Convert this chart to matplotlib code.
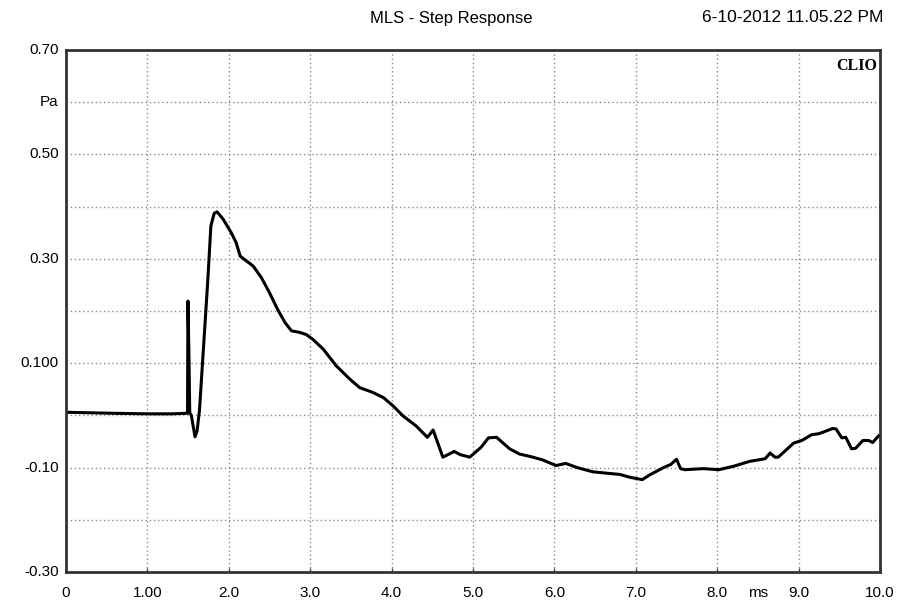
import matplotlib
matplotlib.use("Agg")
import matplotlib.pyplot as plt

# Data (time in ms, pressure in Pa)
time_ms = [0.00, 0.30, 0.60, 1.00, 1.30, 1.47, 1.493, 1.498, 1.51, 1.52, 1.54,
           1.585, 1.61, 1.64, 1.68, 1.74, 1.78, 1.82, 1.856, 1.93, 2.03, 2.09,
           2.14, 2.19, 2.30, 2.40, 2.50, 2.60, 2.69, 2.77, 2.87, 2.95, 3.03,
           3.16, 3.32, 3.49, 3.61, 3.77, 3.90, 4.02, 4.14, 4.30, 4.44, 4.51,
           4.63, 4.77, 4.84, 4.96, 5.10, 5.19, 5.29, 5.45, 5.57, 5.71, 5.85,
           6.02, 6.14, 6.28, 6.47, 6.66, 6.80, 6.94, 7.08, 7.17, 7.34, 7.43,
           7.50, 7.55, 7.60, 7.83, 8.02, 8.21, 8.40, 8.59, 8.65, 8.71, 8.75,
           8.94, 9.04, 9.16, 9.25, 9.32, 9.42, 9.46, 9.53, 9.58, 9.65, 9.70,
           9.79, 9.86, 9.91, 9.96, 10.0]
pressure_pa = [0.006, 0.005, 0.004, 0.003, 0.003, 0.004, 0.004, 0.219, 0.12,
               0.005, 0.000, -0.041, -0.030, 0.010, 0.108, 0.254, 0.363,
               0.387, 0.390, 0.376, 0.350, 0.331, 0.305, 0.299, 0.286, 0.264,
               0.235, 0.203, 0.178, 0.162, 0.159, 0.155, 0.146, 0.127, 0.095,
               0.069, 0.053, 0.044, 0.034, 0.018, -0.001, -0.020, -0.042,
               -0.028, -0.080, -0.069, -0.075, -0.080, -0.061, -0.043, -0.042,
               -0.064, -0.074, -0.079, -0.085, -0.096, -0.092, -0.100, -0.108,
               -0.111, -0.113, -0.119, -0.123, -0.114, -0.100, -0.094, -0.084,
               -0.102, -0.104, -0.102, -0.104, -0.097, -0.088, -0.083, -0.072,
               -0.080, -0.080, -0.053, -0.048, -0.037, -0.035, -0.031, -0.025,
               -0.026, -0.043, -0.042, -0.064, -0.063, -0.048, -0.048, -0.052,
               -0.043, -0.037]

x_ticks = [0, 1, 2, 3, 4, 5, 6, 7, 8, 9, 10]
x_tick_labels = ["0", "1.00", "2.0", "3.0", "4.0", "5.0", "6.0", "7.0", "8.0", "9.0", "10.0"]
y_ticks = [0.7, 0.5, 0.3, 0.1, -0.1, -0.3]
y_tick_labels = ["0.70", "0.50", "0.30", "0.100", "-0.10", "-0.30"]

plt.rcParams['font.family'] = ['Liberation Sans', 'DejaVu Sans']

fig = plt.figure(figsize=(9.01, 6.03), dpi=100)
ax = fig.add_axes([66/901, 1-572/603, (880-66)/901, (572-50)/603])

ax.plot(time_ms, pressure_pa, color='black', linewidth=2.2,
        solid_joinstyle='round', solid_capstyle='round')

ax.set_xlim(0, 10)
ax.set_ylim(-0.3, 0.7)
ax.set_xticks([i for i in range(11)])
ax.set_yticks([-0.3 + 0.1*i for i in range(11)])
ax.grid(True, color='#8a8a8a', linestyle=(0, (1, 2)), linewidth=1.0)
ax.set_xticklabels([])
ax.set_yticklabels([])
ax.tick_params(axis='x', direction='in', length=3, width=1, color='#444444')
ax.tick_params(axis='y', length=0)

for s in ax.spines.values():
    s.set_linewidth(2.0)
    s.set_color('#333333')

fs = 11
for v, lab in zip(x_ticks, x_tick_labels):
    ax.text(v, -0.3 - 0.027, lab, ha='center', va='top', fontsize=fs, clip_on=False)
ax.text(8.5, -0.3 - 0.027, "ms", ha='center', va='top', fontsize=fs, clip_on=False)
for v, lab in zip(y_ticks, y_tick_labels):
    ax.text(-0.09, v, lab, ha='right', va='center', fontsize=fs, clip_on=False)
ax.text(-0.09, 0.6, "Pa", ha='right', va='center', fontsize=fs, clip_on=False)

fig.text(451/901, 1-18/603, "MLS - Step Response", ha='center', va='center', fontsize=12)
fig.text(883/901, 1-18/603, "6-10-2012 11.05.22 PM", ha='right', va='center', fontsize=12.5)
ax.text(9.97, 0.685, "CLIO", ha='right', va='top', fontsize=11.5, fontweight='bold',
        family='Liberation Serif')

fig.savefig("out.png", dpi=100)
